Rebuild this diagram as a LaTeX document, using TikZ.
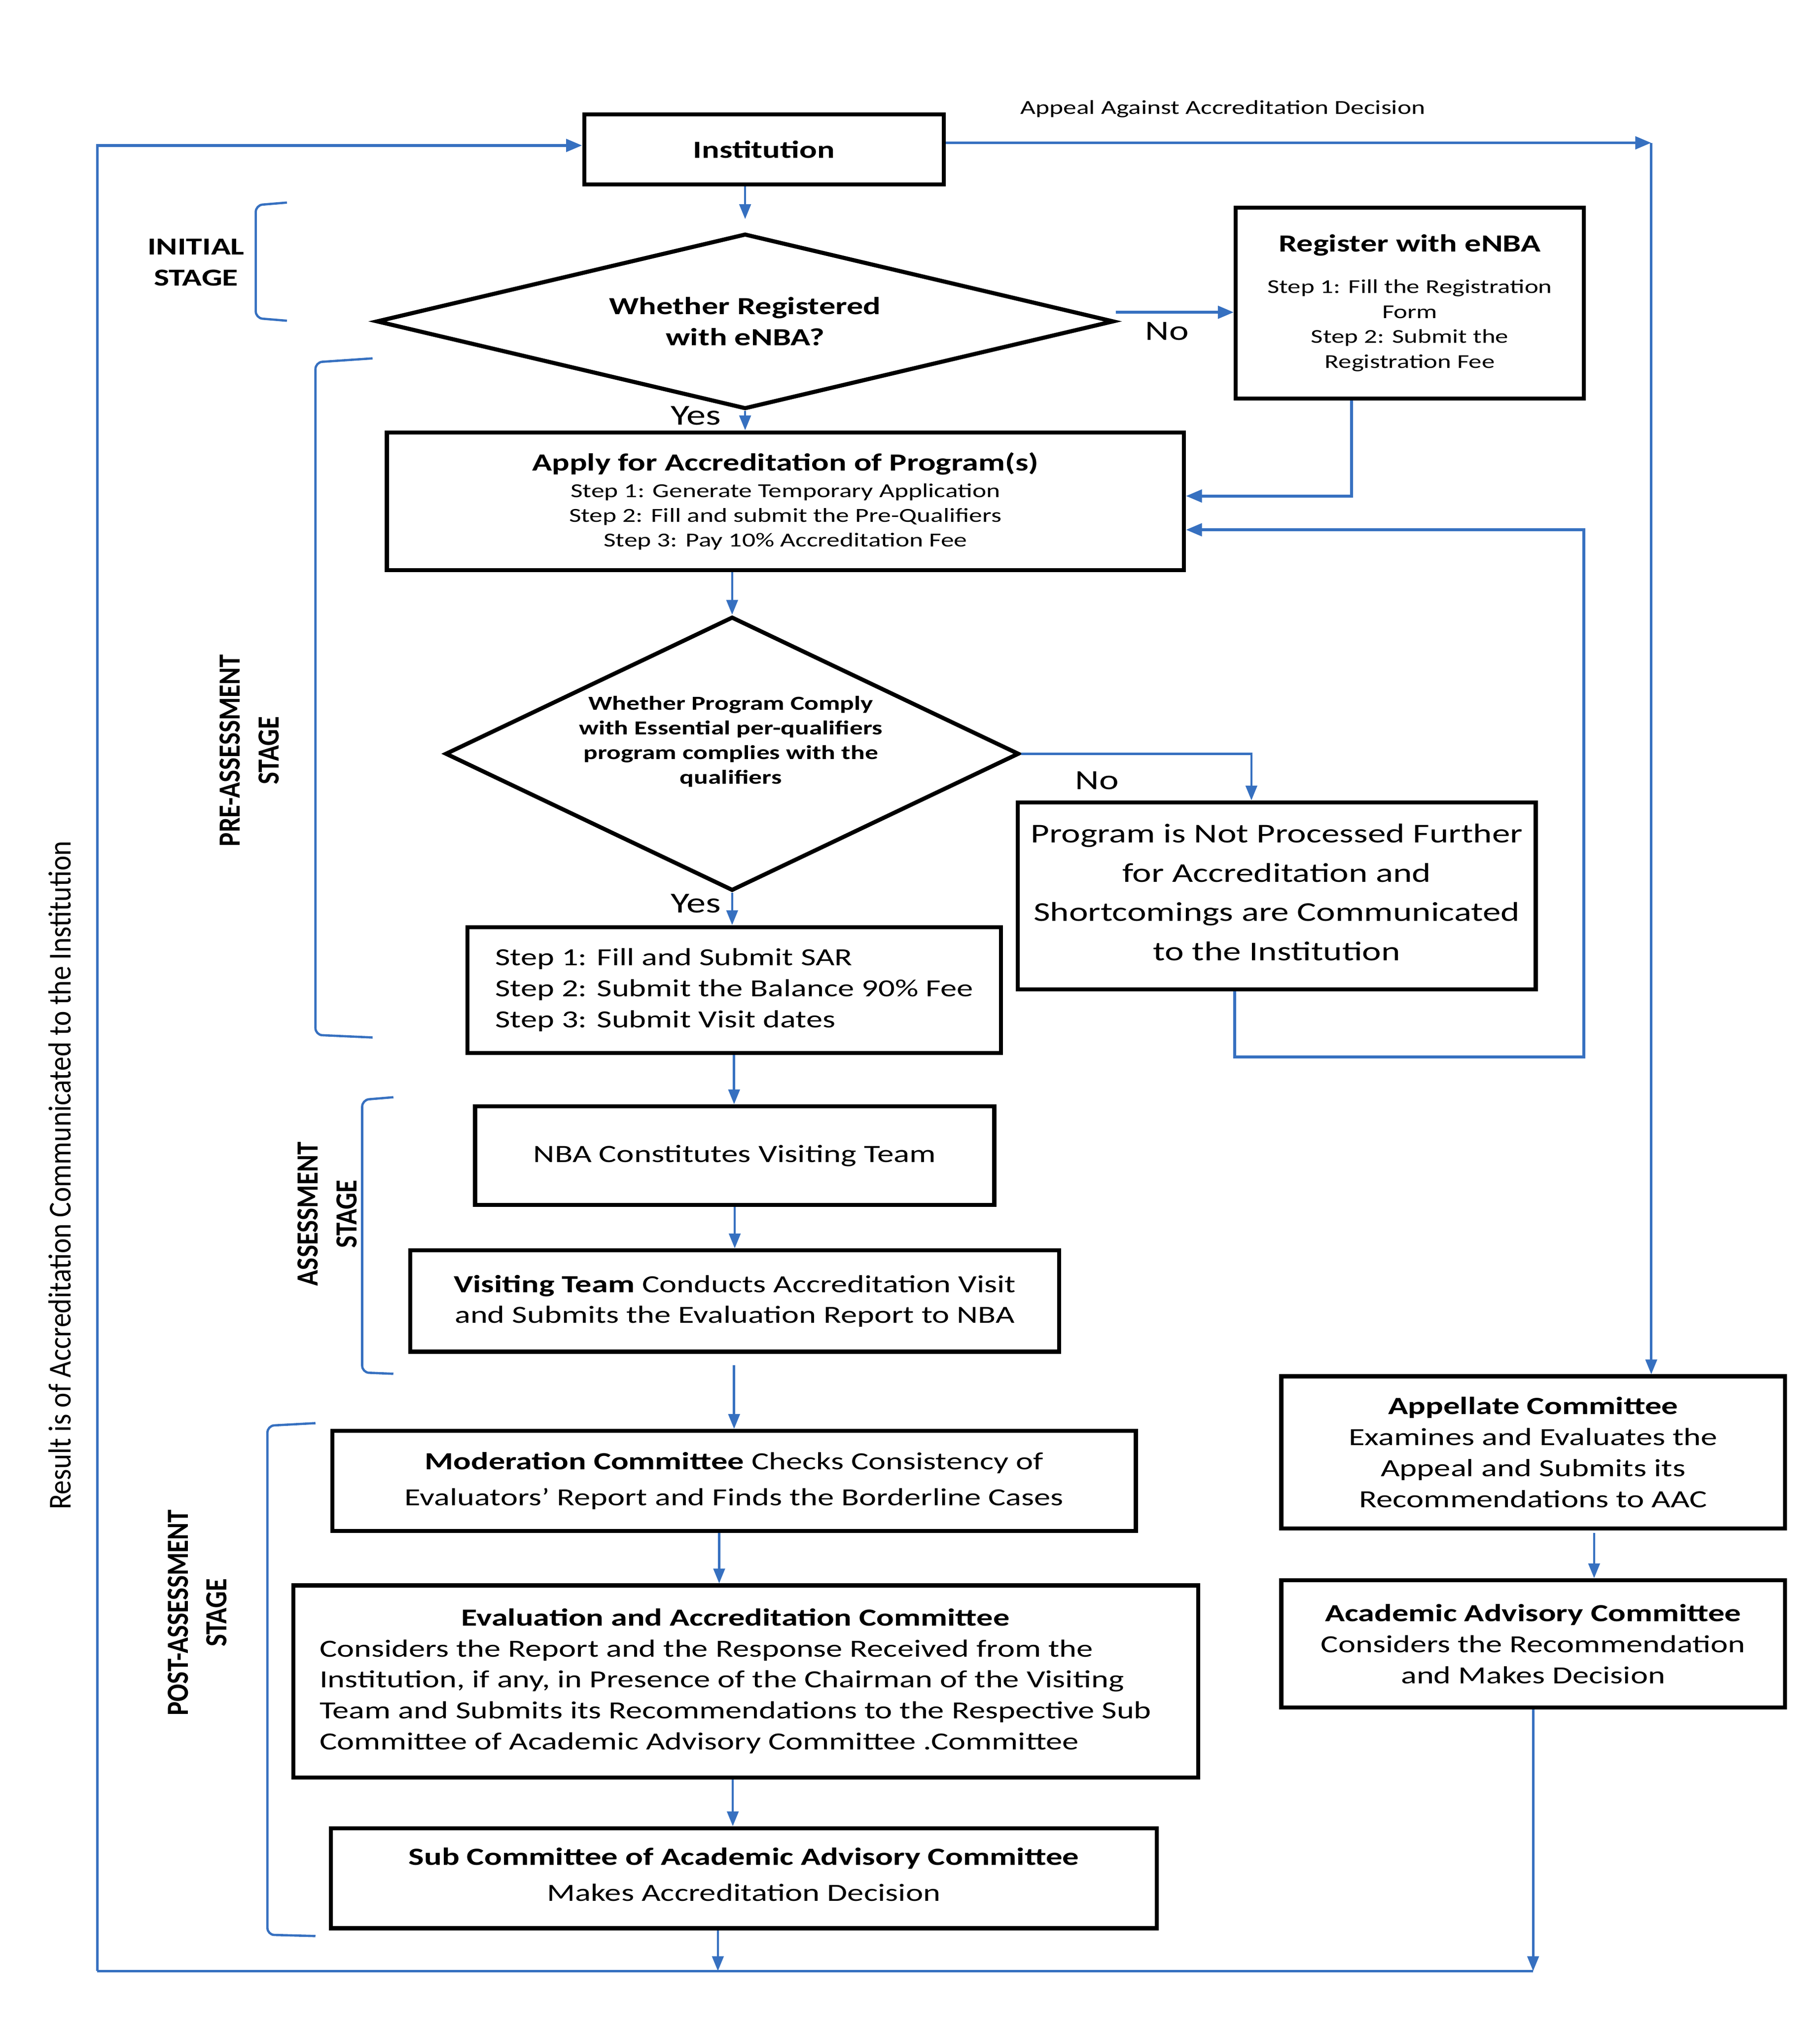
\documentclass[tikz,border=0pt]{standalone}
\usepackage{fontspec}
\setmainfont{Carlito}[FakeStretch=1.33]
\newfontfamily\condfont{Carlito}[FakeStretch=0.85]
\newfontfamily\condlfont{Carlito}[FakeStretch=0.89]
\usetikzlibrary{arrows.meta,shapes.geometric}
\definecolor{lblue}{RGB}{54,112,192}
\newcommand\fs[2]{\fontsize{#1}{#2}\selectfont}
\newcommand\bbox[7][]{\node[box,minimum width={(#5-#3)*0.02cm},minimum height={(#6-#4)*0.02cm},#1] (#2) at ({(#3+#5)/2},{(#4+#6)/2}) {#7};}
\begin{document}
\begin{tikzpicture}[x=0.02cm,y=-0.02cm,
  box/.style={draw=black,line width=1.8pt,inner sep=0pt,align=center,fill=white},
  dia/.style={draw=black,line width=1.8pt,diamond,inner sep=0pt,align=center},
  conn/.style={draw=lblue,line width=1pt,-{Triangle[length=6.5pt,width=5pt]}},
  tconn/.style={draw=lblue,line width=1.25pt,-{Triangle[length=7pt,width=5.5pt]}},
  bline/.style={draw=lblue,line width=1pt},
  brk/.style={draw=lblue,line width=1pt,rounded corners=3pt},
  lab/.style={inner sep=0pt,align=center},
  stagelab/.style={inner sep=0pt,align=center,rotate=90,font=\condfont\fs{13.5}{17}\bfseries}]
\useasboundingbox (0,0) rectangle (1402,1568);

% ---------- boxes ----------
\bbox[font=\fs{10.8}{12}\bfseries]{inst}{450}{88}{727}{142}{Institution}
\node[dia,shape aspect=4.2,minimum width=568*0.02cm,minimum height=135*0.02cm,font=\fs{10.8}{13.6}\bfseries] (d1) at (574,247.5) {Whether Registered\\with eNBA?};
\bbox[font=\fs{8.6}{11}]{reg}{952}{160}{1220}{307}{{\fs{10.8}{12}\bfseries Register with eNBA}\\[7pt]Step 1: Fill the Registration\\Form\\Step 2: Submit the\\Registration Fee}
\bbox[font=\fs{8.7}{10.8}]{apply}{298}{333}{912}{439}{{\fs{10.8}{12}\bfseries Apply for Accreditation of Program(s)}\\[1pt]Step 1: Generate Temporary Application\\Step 2: Fill and submit the Pre-Qualifiers\\Step 3: Pay 10\% Accreditation Fee}
\node[dia,minimum width=442*0.02cm,minimum height=211*0.02cm] (d2) at (564,580.5) {};
\node[lab,font=\fs{8.7}{10.8}\bfseries] (d2t) at (563,571) {Whether Program Comply\\with Essential per-qualifiers\\program complies with the\\qualifiers};
\bbox[font=\fs{11.9}{17.2}]{np}{784}{618}{1183}{762}{Program is Not Processed Further\\for Accreditation and\\Shortcomings are Communicated\\to the Institution\\[-13.8pt]}
\bbox[font=\fs{10.8}{13.6},align=left]{steps}{360}{714}{771}{811}{Step 1: Fill and Submit SAR\\Step 2: Submit the Balance 90\% Fee\\Step 3: Submit Visit dates}
\bbox[font=\fs{10.9}{13.6}]{nba}{366}{852}{766}{928}{NBA Constitutes Visiting Team}
\bbox[font=\fs{10.8}{13.6}]{visit}{316}{963}{816}{1041}{\textbf{Visiting Team} Conducts Accreditation Visit\\and Submits the Evaluation Report to NBA}
\bbox[font=\fs{10.8}{15.9}]{moder}{256}{1102}{875}{1179}{\textbf{Moderation Committee} Checks Consistency of\\Evaluators’ Report and Finds the Borderline Cases}
\bbox[font=\fs{10.8}{13.6}]{eval}{226}{1221}{923}{1369}{\begin{tabular}{@{}l@{}}\multicolumn{1}{@{}c@{}}{\bfseries Evaluation and Accreditation Committee}\\Considers the Report and the Response Received from the\\Institution, if any, in Presence of the Chairman of the Visiting\\Team and Submits its Recommendations to the Respective Sub\\Committee of Academic Advisory Committee .Committee\end{tabular}\kern9pt}
\bbox[font=\fs{10.85}{15.9}]{sub}{255}{1408}{891}{1485}{\textbf{Sub Committee of Academic Advisory Committee}\\Makes Accreditation Decision\\[-12.5pt]}
\bbox[font=\fs{10.85}{13.6}]{appel}{987}{1060}{1375}{1177}{\textbf{Appellate Committee}\\Examines and Evaluates the\\Appeal and Submits its\\Recommendations to AAC}
\bbox[font=\fs{10.8}{13.6}]{aac}{987}{1217}{1375}{1315}{\textbf{Academic Advisory Committee}\\Considers the Recommendation\\and Makes Decision}

% ---------- labels ----------
\node[lab,font=\fs{8.7}{10}] (appeal) at (942,84) {Appeal Against Accreditation Decision};
\node[lab,font=\fs{10.7}{13.6}\bfseries] (initial) at (151,202) {INITIAL\\STAGE};
\node[stagelab] (pre) at (192,578) {PRE-ASSESSMENT\\STAGE};
\node[stagelab] (ass) at (252,935) {ASSESSMENT\\STAGE};
\node[stagelab] (post) at (152,1242) {POST-ASSESSMENT\\STAGE};
\node[lab,rotate=90,font=\condlfont\fs{14}{15}] (res) at (46,905) {Result is of Accreditation Communicated to the Institution};
\node[lab,font=\fs{12.2}{14}] (no1) at (899,255) {No};
\node[lab,font=\fs{12.7}{14}] (yes1) at (536,320) {Yes};
\node[lab,font=\fs{12.2}{14}] (no2) at (845,601) {No};
\node[lab,font=\fs{12.7}{14}] (yes2) at (536,696) {Yes};

% ---------- brackets ----------
\draw[brk] (221,156) -- (197,158) -- (197,245) -- (221,247);
\draw[brk] (287,276) -- (243,279) -- (243,797) -- (287,799);
\draw[brk] (303,845) -- (279,847) -- (279,1057) -- (303,1058);
\draw[brk] (243,1096) -- (206,1098) -- (206,1490) -- (243,1491);

% ---------- coordinates ----------
\coordinate (tl) at (75,112);
\coordinate (bl) at (75,1518);
\coordinate (tr) at (1272,110);
\coordinate (r1) at (1041,382);
\coordinate (f1) at (951,814);
\coordinate (f2) at (1220,814);
\coordinate (f3) at (1220,408);
\coordinate (n2) at (964,580.5);
\coordinate (bm) at (553,1518);
\coordinate (ev) at (554,1200);

% ---------- connectors ----------
\draw[tconn] (bl) -- (tl) -- (tl -| inst.west);
\draw[tconn] (tr -| inst.east) -- (tr);
\draw[conn] (tr) -- (tr |- appel.north);
\draw[conn,shorten >=5.5pt] (inst.south -| d1.north) -- (d1.north);
\draw[tconn] ([shift={(0,-7)}]d1.east) -- ([shift={(0,-7)}]d1.east -| reg.west);
\draw[conn] (d1.south) -- (d1.south |- apply.north);
\draw[tconn] (r1 |- reg.south) -- (r1) -- (r1 -| apply.east);
\draw[tconn] (f1 |- np.south) -- (f1) -- (f2) -- (f3) -- (f3 -| apply.east);
\draw[conn] (d2.north |- apply.south) -- (d2.north);
\draw[conn] (d2.east) -- (n2) -- (n2 |- np.north);
\draw[conn] (d2.south) -- (d2.south |- steps.north);
\draw[conn] (steps.south) -- (steps.south |- nba.north);
\draw[conn] (nba.south) -- (nba.south |- visit.north);
\draw[conn,shorten <=5pt] (visit.south -| moder.north) -- (moder.north);
\draw[conn] (ev |- moder.south) -- (ev |- eval.north);
\draw[conn] ([shift={(-10,0)}]eval.south) -- ([shift={(-10,0)}]eval.south |- sub.north);
\draw[conn] (bm |- sub.south) -- (bm);
\draw[bline] (bl) -- (bm) -- (bm -| aac.south);
\draw[conn] (aac.south) -- (aac.south |- bm);
\draw[conn] ([shift={(47,2)}]appel.south) -- ([shift={(47,0)}]appel.south |- aac.north);
\end{tikzpicture}
\end{document}
